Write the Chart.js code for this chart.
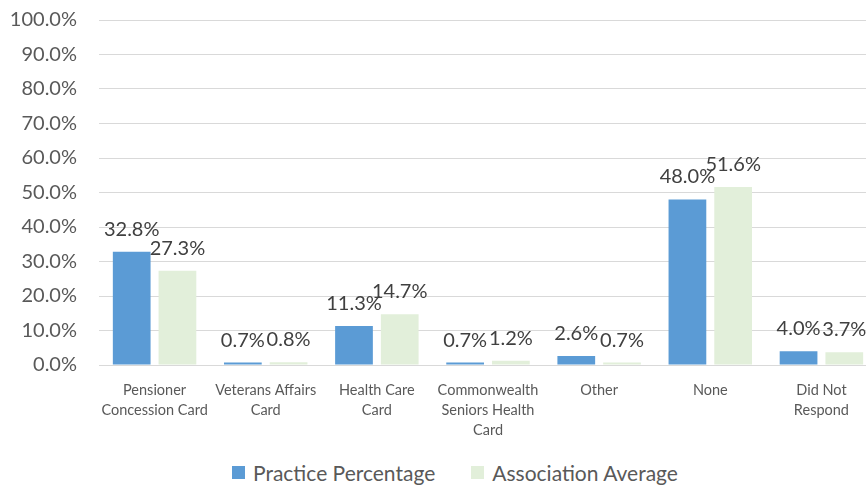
<!DOCTYPE html>
<html>
<head>
<meta charset="utf-8">
<script src="https://cdn.jsdelivr.net/npm/chart.js@4/dist/chart.umd.min.js"></script>
<style>
  html, body { margin: 0; padding: 0; background: #fff; overflow: hidden; }
  #wrap { position: absolute; left: 0; top: -11px; width: 880px; height: 456px; }
  .legend {
    position: absolute; left: 232px; top: 460px;
    display: flex; align-items: center;
    font: 21px Lato, "Open Sans", sans-serif; color: #595959;
  }
  .legend span.box { display: inline-block; width: 13px; height: 13px; margin-right: 8px; }
  .legend .item { display: flex; align-items: center; margin-right: 36px; }
</style>
</head>
<body>
<div id="wrap"><canvas id="cardChart"></canvas></div>
<div class="legend" id="legend"></div>
<script>
// card types held by patients
const categories = [
    ['Pensioner', 'Concession Card'],
    ['Veterans Affairs', 'Card'],
    ['Health Care', 'Card'],
    ['Commonwealth', 'Seniors Health', 'Card'],
    'Other',
    'None',
    ['Did Not', 'Respond']
];
const practicePct = [32.8, 0.7, 11.3, 0.7, 2.6, 48.0, 4.0];
const associationAvg = [27.3, 0.8, 14.7, 1.2, 0.7, 51.6, 3.7];
const yTicks = [0, 10, 20, 30, 40, 50, 60, 70, 80, 90, 100];

const FONT = 'Lato, "Open Sans", sans-serif';

// value labels above each bar
const barLabels = {
    id: 'barLabels',
    afterDatasetsDraw(chart) {
        const ctx = chart.ctx;
        ctx.save();
        ctx.font = '20px ' + FONT;
        ctx.fillStyle = '#404040';
        ctx.textAlign = 'center';
        ctx.textBaseline = 'alphabetic';
        chart.data.datasets.forEach((ds, i) => {
            chart.getDatasetMeta(i).data.forEach((bar, j) => {
                ctx.fillText(ds.data[j].toFixed(1) + '%', bar.x, bar.y - 16);
            });
        });
        ctx.restore();
    }
};

const ctx = document.getElementById('cardChart').getContext('2d');
const cardChart = new Chart(ctx, {
    type: 'bar',
    data: {
        labels: categories,
        datasets: [{
            label: 'Practice Percentage',
            data: practicePct,
            backgroundColor: '#5B9BD5'
        }, {
            label: 'Association Average',
            data: associationAvg,
            backgroundColor: '#E2EFDA'
        }]
    },
    options: {
        responsive: true,
        maintainAspectRatio: false,
        animation: false,
        layout: { padding: { top: 1, right: 3, bottom: 0 } },
        datasets: {
            bar: { categoryPercentage: 0.823, barPercentage: 0.825 }
        },
        scales: {
            x: {
                grid: { display: false },
                border: { color: '#D9D9D9' },
                afterFit: scale => { scale.height = 80; },
                ticks: {
                    color: '#595959',
                    font: { family: FONT, size: 14.5, lineHeight: '20px' },
                    maxRotation: 0,
                    autoSkip: false,
                    padding: 7
                }
            },
            y: {
                min: 0,
                max: 100,
                afterBuildTicks: scale => { scale.ticks = yTicks.map(v => ({ value: v })); },
                afterFit: scale => { scale.width = 99; },
                border: { display: false },
                grid: { color: '#D9D9D9', lineWidth: 1, drawTicks: false },
                ticks: {
                    color: '#595959',
                    font: { family: FONT, size: 20, lineHeight: 0.9 },
                    padding: 22,
                    callback: v => v.toFixed(1) + '%'
                }
            }
        },
        plugins: {
            legend: { display: false },
            tooltip: { enabled: false }
        }
    },
    plugins: [barLabels]
});

// legend under the chart
const legendEl = document.getElementById('legend');
cardChart.data.datasets.forEach(ds => {
    const item = document.createElement('div');
    item.className = 'item';
    item.innerHTML = '<span class="box" style="background:' + ds.backgroundColor + '"></span>' + ds.label;
    legendEl.appendChild(item);
});
</script>
</body>
</html>
